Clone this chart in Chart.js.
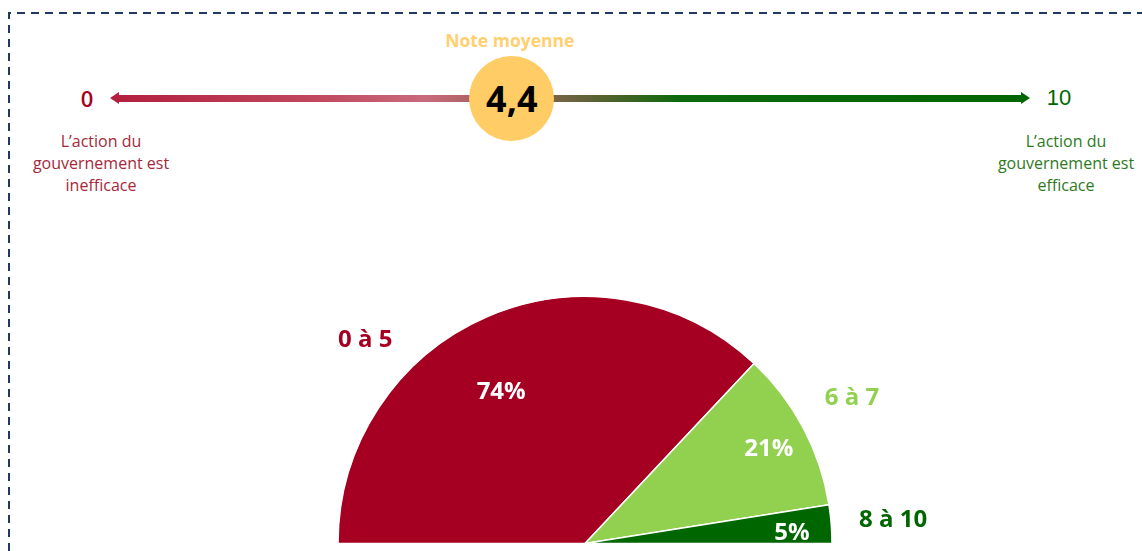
<!DOCTYPE html>
<html lang="fr">
<head>
<meta charset="utf-8">
<script src="https://cdn.jsdelivr.net/npm/chart.js@4/dist/chart.umd.min.js"></script>
<style>
  html, body { margin: 0; padding: 0; background: #fff; }
  body { width: 1142px; height: 551px; position: relative; overflow: hidden; font-family: "Open Sans", sans-serif; }
  #frame { position: absolute; left: 0; top: 0; }
  #pie { position: absolute; left: 0; top: 0; }
  .abs { position: absolute; }
  #shaft { left: 118px; top: 94.5px; width: 904px; height: 7px;
    background: linear-gradient(to right, #b3203f 0%, #c0485f 22%, #c96a7c 34%, #a86262 40%, #7a6448 48%, #4a6228 55%, #0d690d 62%, #006600 100%); }
  #headL { left: 110px; top: 91.5px; width: 0; height: 0; border-top: 6.5px solid transparent; border-bottom: 6.5px solid transparent; border-right: 9px solid #b3203f; }
  #headR { left: 1021px; top: 91.5px; width: 0; height: 0; border-top: 6.5px solid transparent; border-bottom: 6.5px solid transparent; border-left: 9px solid #006600; }
  #note { width: 85px; height: 85px; top: 55.5px; border-radius: 50%; background: #ffcc66;
    display: flex; align-items: center; justify-content: center; font-weight: 700; font-size: 36px; color: #000; }
  #noteTitle { top: 28px; width: 200px; text-align: center; font-weight: 700; font-size: 17.5px; color: #ffcf70; }
  .end { top: 84px; width: 60px; text-align: center; font-size: 22px; line-height: 28px; }
  #end0 { left: 57px; color: #a50021; font-weight: 600; }
  #end10 { left: 1029px; color: #006600; font-family: "Liberation Sans", Arial, sans-serif; }
  .caption { top: 130px; width: 190px; text-align: center; font-size: 16px; line-height: 22px; }
  #capL { left: 6px; color: #a5283a; }
  #capR { left: 971px; color: #2e7a1e; }
</style>
</head>
<body>
<svg id="frame" width="1142" height="551">
  <path d="M 9 551 V 13 H 1142" fill="none" stroke="#1f3864" stroke-width="2" stroke-dasharray="8 6"/>
</svg>

<div id="shaft" class="abs"></div>
<div id="headL" class="abs"></div>
<div id="headR" class="abs"></div>
<div id="end0" class="abs end"></div>
<div id="end10" class="abs end"></div>
<div id="noteTitle" class="abs">Note moyenne</div>
<div id="note" class="abs"></div>
<div id="capL" class="abs caption">L’action du<br>gouvernement est<br>inefficace</div>
<div id="capR" class="abs caption">L’action du<br>gouvernement est<br>efficace</div>

<canvas id="pie" width="1142" height="551"></canvas>

<script>
// données
const categories = ["0 à 5", "6 à 7", "8 à 10"];
const shares = [74, 21, 5];
const sliceColors = ["#a50021", "#92d050", "#006600"];
const scaleEnds = [0, 10];
const noteMoyenne = 4.4;

// placement des étiquettes (décalage d'angle en degrés, rayon relatif)
const catShift = [23.8, 0.7, -0.1];
const catRadius = [1.213, 1.231, 1.251];
const pctShift = [5.6, -0.7, -1.6];
const pctRadius = [0.70, 0.837, 0.839];

// échelle du haut
const scaleLeft = 110, scaleRight = 1030;
document.getElementById("end0").textContent = scaleEnds[0];
document.getElementById("end10").textContent = scaleEnds[1];
const noteEl = document.getElementById("note");
noteEl.textContent = noteMoyenne.toLocaleString("fr-FR", { minimumFractionDigits: 1 });
const noteX = scaleLeft + (noteMoyenne - scaleEnds[0]) / (scaleEnds[1] - scaleEnds[0]) * (scaleRight - scaleLeft) - 3;
noteEl.style.left = (noteX - 42.5) + "px";
document.getElementById("noteTitle").style.left = (noteX - 2 - 100) + "px";

const sliceLabels = {
  id: "sliceLabels",
  afterDatasetsDraw(chart) {
    const ctx = chart.ctx;
    const arcs = chart.getDatasetMeta(0).data;
    ctx.save();
    ctx.textAlign = "center";
    ctx.textBaseline = "middle";
    ctx.font = 'bold 24px "Open Sans"';
    arcs.forEach((arc, i) => {
      const p = arc.getProps(["x", "y", "startAngle", "endAngle", "outerRadius"], true);
      const mid = -(p.startAngle + p.endAngle) / 2;
      const at = (shift, k) => {
        const a = mid + shift * Math.PI / 180;
        return [p.x + Math.cos(a) * p.outerRadius * k, p.y - Math.sin(a) * p.outerRadius * k];
      };
      let [x, y] = at(pctShift[i], pctRadius[i]);
      ctx.fillStyle = "#fff";
      ctx.fillText(shares[i] + "%", x, y);
      [x, y] = at(catShift[i], catRadius[i]);
      ctx.fillStyle = sliceColors[i];
      ctx.fillText(categories[i], x, y);
    });
    ctx.restore();
  }
};

new Chart(document.getElementById("pie"), {
  type: "doughnut",
  data: {
    labels: categories,
    datasets: [{
      data: shares,
      backgroundColor: sliceColors,
      borderColor: "#fff",
      borderWidth: 1.5
    }]
  },
  options: {
    responsive: false,
    animation: false,
    cutout: 0,
    rotation: -90,
    circumference: 180,
    layout: { padding: { left: 337.25, right: 309.25, top: 295.75, bottom: 6.75 } },
    plugins: {
      legend: { display: false },
      tooltip: { enabled: false }
    }
  },
  plugins: [sliceLabels]
});
</script>
</body>
</html>
